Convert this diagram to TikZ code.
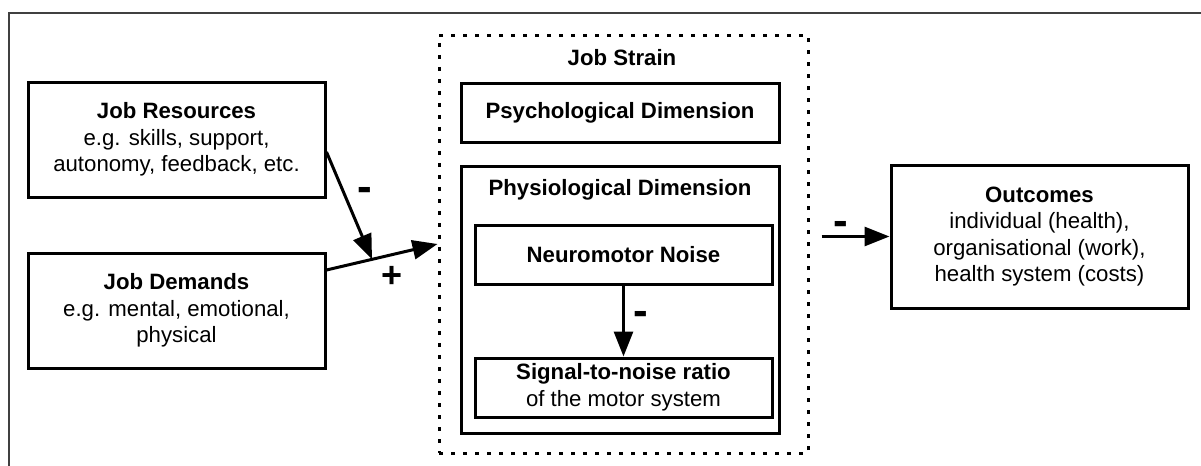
\documentclass[tikz,border=0pt]{standalone}
\usepackage{fontspec}
\setmainfont{Liberation Sans}
\usetikzlibrary{positioning}
\usetikzlibrary{arrows.meta}
\tikzset{
    mybox/.style = {rectangle, line width=1.5pt, draw=black, align=center, inner sep=2pt},
    strainbox/.style = {rectangle, line width=1.5pt, draw=black, dash pattern=on 2pt off 4pt},
    mytitle/.style = {anchor=base, inner sep=0pt},
    sign/.style = {font=\fontsize{18pt}{20pt}\selectfont\bfseries, inner sep=0pt},
    signm/.style = {font=\fontsize{22pt}{24pt}\selectfont\bfseries, inner sep=0pt},
    edgen/.style = {-{Triangle[length=12.5pt,width=9.5pt]}, line width=1.5pt},
    frame/.style = {line width=0.8pt, draw=black!75}
}

\begin{document}
\begin{tikzpicture}[x=0.5pt, y=-0.5pt,
	font=\fontsize{11.1pt}{13.3pt}\selectfont]
  \useasboundingbox (0,0) rectangle (1201,466);
  \draw[frame] (9,466) -- (9,13) -- (1201,13);

  % left side
  \node[mybox, minimum width=148.5pt, minimum height=57.5pt] (res) at (176.5,139.5)
    {\textbf{Job Resources}\\e.g. skills, support,\\autonomy, feedback, etc.};
  \node[mybox, minimum width=148.5pt, minimum height=57.5pt] (dem) at (176.5,310.5)
    {\textbf{Job Demands}\\e.g. mental, emotional,\\physical};

  % job strain
  \node[strainbox, minimum width=184.5pt, minimum height=209pt] (strain) at (623.5,244) {};
  \node[mytitle] (straint) at (622,65) {\textbf{Job Strain}};
  \node[mybox, minimum width=159pt, minimum height=29.5pt] (psych) at (620,112.5)
    {\textbf{Psychological Dimension}};
  \node[mybox, minimum width=159pt, minimum height=133.5pt] (physio) at (620,299.5) {};
  \node[mytitle] (physiot) at (620,195) {\textbf{Physiological Dimension}};
  \node[mybox, minimum width=148.5pt, minimum height=29.5pt] (noise) at (623.5,254.5)
    {\textbf{Neuromotor Noise}};
  \node[mybox, minimum width=148.5pt, minimum height=29.5pt] (snr) at (623.5,387.5)
    {\textbf{Signal-to-noise ratio}\\of the motor system};

  % right side
  \node[mybox, minimum width=148.5pt, minimum height=71.5pt] (out) at (1039.5,236.5)
    {\textbf{Outcomes}\\individual (health),\\organisational (work),\\health system (costs)};

  \draw[edgen] ([yshift=20.25pt]dem.east) -- coordinate[pos=0.41] (join) (strain.west);
  \draw[edgen] ([yshift=-6.25pt]res.east) -- (join);
  \draw[edgen] (noise.south) -- (snr.north);
  \draw[edgen, shorten <=6pt] (strain.east |- out.west) -- (out.west);

  \node[signm] (sres) at (365,194) {-};
  \node[sign] (sdem) at (392,277) {+};
  \node[signm] (snoise) at (641,318) {-};
  \node[signm] (sout) at (840.5,228) {-};
\end{tikzpicture}
\end{document}
